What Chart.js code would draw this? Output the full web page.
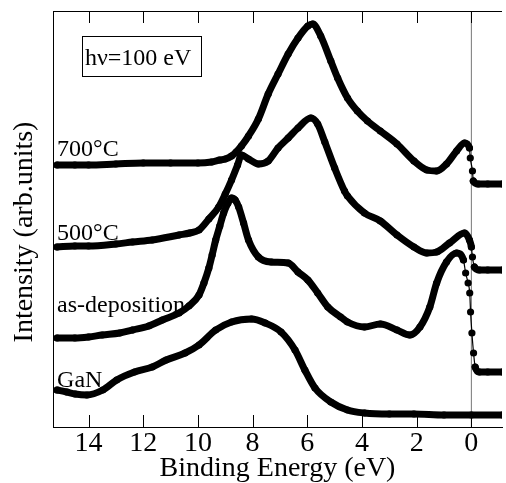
<!DOCTYPE html>
<html>
<head>
<meta charset="utf-8"/>
<title>Valence band spectra</title>
<script src="https://cdn.jsdelivr.net/npm/chart.js@4.4.1/dist/chart.umd.min.js"></script>
<style>
	body { margin: 0; background: #fff; }
	canvas { display: block; }
</style>
</head>
<body>
<canvas id="vb_chart" width="506" height="483"></canvas>
<script>
// binding energy (eV) / intensity (arb. units)
const energy700 = [15.15, 14.5, 14, 13, 12, 11, 10, 9.5, 9.2, 9, 8.77, 8.6, 8.41, 8.15, 7.79, 7.43, 7.07, 6.70, 6.34, 5.98, 5.80, 5.51, 5.14, 4.89, 4.53, 4.17, 3.80, 3.33, 2.72, 2.10, 1.63, 1.27, 0.91, 0.54, 0.25, 0.07, 0.04, -0.04, -0.07, -0.25, -0.6, -1.15];
const counts700 = [262, 262, 262, 263, 264, 264, 264, 265, 267, 268, 271, 275, 281, 291, 308, 333, 353, 373, 389, 401, 403, 391, 366, 349, 329, 316, 306, 296, 283, 266, 257, 256, 263, 276, 284, 279, 269, 256, 246, 243, 243, 243];

const energy500 = [15.15, 14.5, 14, 13, 12.39, 11.67, 10.69, 10.3, 9.96, 9.6, 9.24, 9.0, 8.77, 8.55, 8.41, 8.15, 7.79, 7.43, 7.07, 6.70, 6.34, 5.87, 5.62, 5.36, 5.00, 4.64, 4.53, 3.91, 3.33, 2.72, 2.10, 1.63, 1.27, 0.80, 0.25, 0.07, 0.0, -0.04, -0.11, -0.29, -0.6, -1.15];
const counts500 = [180, 181, 181, 183, 185, 187, 192, 194, 197, 208, 220, 233, 247, 262, 272, 268, 263, 266, 279, 289, 299, 309, 303, 285, 259, 236, 231, 214, 206, 192, 180, 174, 175, 184, 194, 187, 180, 170, 160, 157, 157, 157];

const energyAsDep = [15.15, 14.5, 14, 13.5, 12.86, 12.39, 11.8, 11.30, 10.69, 10.33, 9.96, 9.78, 9.60, 9.48, 9.35, 9.2, 9.06, 8.9, 8.77, 8.64, 8.51, 8.33, 8.15, 7.79, 7.32, 6.70, 6.34, 5.98, 5.62, 5.25, 4.78, 4.53, 3.91, 3.33, 2.72, 2.25, 1.88, 1.52, 1.27, 0.91, 0.54, 0.29, 0.21, 0.12, 0.06, 0.03, -0.02, -0.08, -0.14, -0.29, -0.6, -1.15];
const countsAsDep = [89, 89, 90, 92, 94, 97, 101, 107, 114, 121, 132, 144, 159, 172, 187, 201, 214, 224, 229, 227, 220, 204, 187, 170, 165, 164, 155, 147, 134, 120, 110, 105, 100, 103, 97, 92, 100, 120, 144, 165, 174, 167, 154, 144, 134, 115, 94, 74, 60, 55, 55, 55];

const energyGaN = [15.15, 14.8, 14.49, 14.06, 13.48, 12.97, 12.32, 11.67, 11.16, 10.47, 9.96, 9.35, 8.77, 8.04, 7.54, 6.96, 6.45, 6.09, 5.72, 5.14, 4.53, 3.91, 3.0, 2.10, 1.0, 0, -1.15];
const countsGaN = [37, 35, 33, 32, 37, 47, 55, 60, 67, 74, 82, 97, 105, 108, 104, 95, 77, 57, 39, 25, 17, 14, 13, 13, 12, 12, 12];

const tickValues = [0, 2, 4, 6, 8, 10, 12, 14];
const curveNames = ['700°C', '500°C', 'as-deposition', 'GaN'];
const photonLabel = 'hν=100 eV';

const serif = '"Liberation Serif", "Times New Roman", serif';

function toPoints(e, v)
{
	return e.map((x, i) => ({ x: x, y: v[i] }));
}

function curve(e, v)
{
	return {
		data: toPoints(e, v),
		borderColor: '#000',
		backgroundColor: '#000',
		pointRadius: 3.6,
		pointBorderWidth: 0,
		borderWidth: 7,
		borderCapStyle: 'round',
		borderJoinStyle: 'round',
		cubicInterpolationMode: 'monotone',
		segment: {
			// near-vertical jumps show the single dots on a thin line
			borderWidth: ctx => {
				const dx = Math.abs(ctx.p1.x - ctx.p0.x);
				const dy = Math.abs(ctx.p1.y - ctx.p0.y);
				return (dx < 2.5 && dy > 8) ? 1.2 : 7;
			}
		}
	};
}

const decorations = {
	id: 'decorations',
	beforeDatasetsDraw(chart)
	{
		const { ctx, chartArea: a, scales: { x } } = chart;
		const x0 = x.getPixelForValue(0);
		ctx.save();
		ctx.strokeStyle = '#777';
		ctx.lineWidth = 1;
		ctx.beginPath();
		ctx.moveTo(x0, a.top);
		ctx.lineTo(x0, a.bottom);
		ctx.stroke();
		ctx.restore();
	},
	afterDraw(chart)
	{
		const { ctx, chartArea: a, scales: { x, y } } = chart;
		ctx.save();
		// top frame line and inward ticks
		ctx.strokeStyle = '#000';
		ctx.lineWidth = 1;
		ctx.beginPath();
		ctx.moveTo(a.left, a.top + 0.5);
		ctx.lineTo(a.right, a.top + 0.5);
		tickValues.forEach(v => {
			const px = Math.round(x.getPixelForValue(v)) + 0.5;
			ctx.moveTo(px, a.top);
			ctx.lineTo(px, a.top + 12);
			ctx.moveTo(px, a.bottom);
			ctx.lineTo(px, a.bottom - 12);
		});
		ctx.stroke();

		// curve labels
		ctx.fillStyle = '#000';
		ctx.font = '24px ' + serif;
		ctx.textAlign = 'left';
		ctx.textBaseline = 'alphabetic';
		const labelAt = [[15.15, 271], [15.15, 187], [15.15, 115], [15.15, 40]];
		curveNames.forEach((name, i) => {
			ctx.fillText(name, x.getPixelForValue(labelAt[i][0]), y.getPixelForValue(labelAt[i][1]));
		});

		// photon energy box
		const bx0 = x.getPixelForValue(14.24), bx1 = x.getPixelForValue(9.89);
		const by0 = y.getPixelForValue(391), by1 = y.getPixelForValue(351);
		ctx.strokeRect(Math.round(bx0) + 0.5, Math.round(by0) + 0.5, Math.round(bx1 - bx0), Math.round(by1 - by0));
		ctx.fillText(photonLabel, bx0 + 3, y.getPixelForValue(362));

		// y axis title
		ctx.font = '28px ' + serif;
		ctx.textAlign = 'center';
		ctx.textBaseline = 'middle';
		ctx.translate(25, 232);
		ctx.rotate(-Math.PI / 2);
		ctx.fillText('Intensity (arb.units)', 0, 0);
		ctx.restore();
	}
};

const ctx = document.getElementById('vb_chart').getContext('2d');
const chart = new Chart(ctx, {
	type: 'line',
	data: {
		datasets: [
			curve(energy700, counts700),
			curve(energy500, counts500),
			curve(energyAsDep, countsAsDep),
			curve(energyGaN, countsGaN)
		]
	},
	options: {
		responsive: false,
		animation: false,
		devicePixelRatio: 1,
		layout: { padding: { top: 11, left: 0, right: 0, bottom: 0 } },
		plugins: {
			legend: { display: false },
			tooltip: { enabled: false }
		},
		scales: {
			x: {
				type: 'linear',
				reverse: true,
				min: -1.12,
				max: 15.3,
				afterBuildTicks: s => { s.ticks = tickValues.map(v => ({ value: v })); },
				afterFit: s => { s.height = 56; },
				grid: { display: false, drawTicks: false },
				border: { display: true, color: '#000', width: 1 },
				ticks: {
					color: '#000',
					padding: 0,
					maxRotation: 0,
					autoSkip: false,
					font: { family: serif, size: 28 }
				},
				title: {
					display: true,
					text: 'Binding Energy (eV)',
					color: '#000',
					padding: 0,
					font: { family: serif, size: 28, lineHeight: 1 }
				}
			},
			y: {
				min: 0,
				max: 416,
				afterFit: s => { s.width = 53; },
				grid: { display: false, drawTicks: false },
				border: { display: true, color: '#000', width: 1 },
				ticks: { display: false }
			}
		}
	},
	plugins: [decorations]
});
</script>
</body>
</html>
